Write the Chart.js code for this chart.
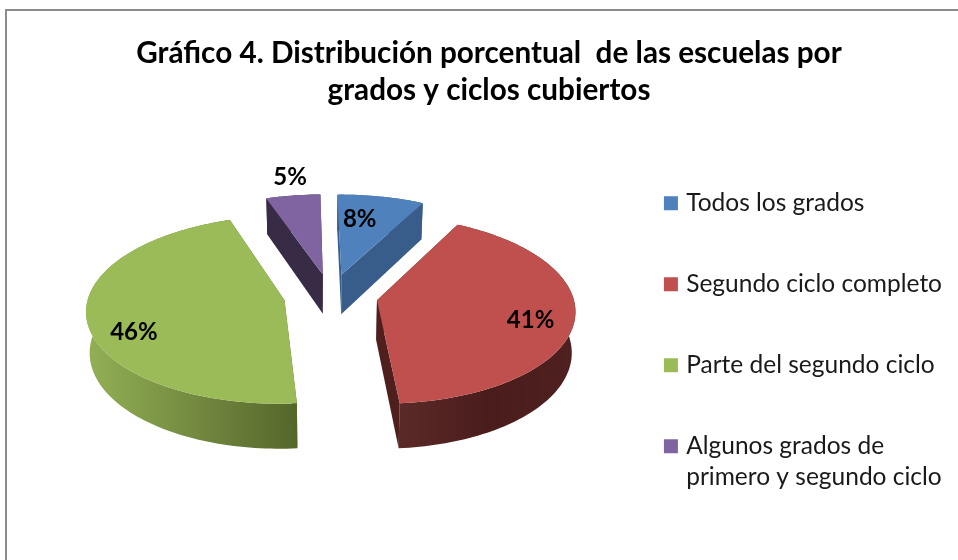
<!DOCTYPE html>
<html lang="es">
<head>
<meta charset="utf-8">
<title>Gráfico 4</title>
<script src="https://cdn.jsdelivr.net/npm/chart.js@4"></script>
<style>
  html, body { margin: 0; padding: 0; background: #fff; }
  canvas { display: block; }
</style>
</head>
<body>
<canvas id="pieChart" width="958" height="560"></canvas>
<script>
// Datos
const categories = [
  'Todos los grados',
  'Segundo ciclo completo',
  'Parte del segundo ciclo',
  ['Algunos grados de', 'primero y segundo ciclo']
];
const values = [8, 41, 46, 5];
const titleLines = [
  'Gráfico 4. Distribución porcentual  de las escuelas por',
  'grados y ciclos cubiertos'
];

// Colores
const topColors = ['#4F81BD', '#C0504D', '#9BBB59', '#8064A2'];
const edgeColors = ['#385D8A', '#4F1F1E', '#55662B', '#372B45'];
const rimStops = [
  ['#385D8A', '#385D8A'],
  ['#5A2A28', '#4A1C1B', '#4E2120'],
  ['#93B055', '#55662B'],
  ['#372B45', '#372B45']
];

// Ajuste de las etiquetas respecto al punto medio de cada sector
const labelShift = [[-12, 4], [6, 6], [-3, 17], [-10, -37]];

// Perspectiva del pastel
const TILT = 0.47;
const PERSPECTIVE = 0.10;
const DEPTH = 40.3;
const BOTTOM_SCALE = 0.985;
const SHIFT_X = 12;
const SHIFT_Y = -38;

function makeProjector(cx, cy, radius) {
  return (u, v, low) => {
    const s = 1 / (1 - PERSPECTIVE * v / radius);
    const k = low ? BOTTOM_SCALE : 1;
    return {
      x: cx + u * s * k,
      y: cy + v * TILT * s + (low ? DEPTH * s : 0)
    };
  };
}

function arcPoints(el, project, low) {
  const { startAngle, endAngle, outerRadius } = el;
  const off = el.options.offset;
  const mid = (startAngle + endAngle) / 2;
  const ou = Math.cos(mid) * off;
  const ov = Math.sin(mid) * off;
  const steps = Math.max(6, Math.ceil((endAngle - startAngle) * 40));
  const pts = [];
  for (let i = 0; i <= steps; i++) {
    const a = startAngle + (endAngle - startAngle) * i / steps;
    pts.push(project(ou + Math.cos(a) * outerRadius, ov + Math.sin(a) * outerRadius, low));
  }
  return { pts, apex: project(ou, ov, low) };
}

function fillPoly(ctx, pts, fill) {
  ctx.beginPath();
  pts.forEach((p, i) => (i ? ctx.lineTo(p.x, p.y) : ctx.moveTo(p.x, p.y)));
  ctx.closePath();
  ctx.fillStyle = fill;
  ctx.fill();
}

const pie3d = {
  id: 'pie3d',
  beforeDraw(chart) {
    // Marco gris, solo arriba y a la izquierda
    const { ctx } = chart;
    ctx.save();
    ctx.strokeStyle = '#8C8C8C';
    ctx.lineWidth = 2;
    ctx.beginPath();
    ctx.moveTo(6, 560);
    ctx.lineTo(6, 10);
    ctx.lineTo(958, 10);
    ctx.stroke();
    ctx.restore();
  },
  beforeDatasetsDraw(chart) {
    const { ctx } = chart;
    const arcs = chart.getDatasetMeta(0).data;
    ctx.save();
    arcs.forEach((el, i) => {
      const project = makeProjector(el.x + SHIFT_X, el.y + SHIFT_Y, el.outerRadius);
      const high = arcPoints(el, project, false);
      const low = arcPoints(el, project, true);

      // Pared exterior con degradado
      const xs = high.pts.map(p => p.x);
      const grad = ctx.createLinearGradient(Math.min(...xs), 0, Math.max(...xs), 0);
      rimStops[i].forEach((c, n) => grad.addColorStop(n / (rimStops[i].length - 1), c));
      fillPoly(ctx, high.pts.concat(low.pts.slice().reverse()), grad);

      // Paredes radiales
      const last = high.pts.length - 1;
      fillPoly(ctx, [high.apex, high.pts[0], low.pts[0], low.apex], edgeColors[i]);
      fillPoly(ctx, [high.apex, high.pts[last], low.pts[last], low.apex], edgeColors[i]);

      // Cara superior
      fillPoly(ctx, [high.apex].concat(high.pts), el.options.backgroundColor);
    });

    // Etiquetas
    ctx.font = 'bold 24px Lato';
    ctx.fillStyle = '#000';
    ctx.textAlign = 'center';
    ctx.textBaseline = 'middle';
    arcs.forEach((el, i) => {
      const project = makeProjector(el.x + SHIFT_X, el.y + SHIFT_Y, el.outerRadius);
      const off = el.options.offset;
      const mid = (el.startAngle + el.endAngle) / 2;
      const r = el.outerRadius * 0.75 + off;
      const p = project(Math.cos(mid) * r, Math.sin(mid) * r, false);
      ctx.fillText(values[i] + '%', p.x + labelShift[i][0], p.y + labelShift[i][1]);
    });
    ctx.restore();
    return false;
  }
};

new Chart(document.getElementById('pieChart').getContext('2d'), {
  type: 'pie',
  data: {
    labels: categories,
    datasets: [{
      data: values,
      backgroundColor: topColors,
      borderWidth: 0,
      offset: 47,
      radius: 196
    }]
  },
  options: {
    responsive: false,
    animation: false,
    events: [],
    rotation: -1,
    layout: { padding: { left: 26, right: 6, top: 0, bottom: 7.5 } },
    plugins: {
      tooltip: { enabled: false },
      title: {
        display: true,
        text: titleLines,
        color: '#000',
        font: { family: 'Lato', size: 29.7, weight: 'bold', lineHeight: 37 / 29.7 },
        padding: { top: 35, bottom: 6 }
      },
      legend: {
        position: 'right',
        align: 'end',
        labels: {
          color: '#1a1a1a',
          font: { family: 'Lato', size: 24.5, lineHeight: 31 / 24.5 },
          usePointStyle: true,
          pointStyle: 'rect',
          boxWidth: 6,
          boxHeight: 14,
          padding: 56.5
        }
      }
    }
  },
  plugins: [pie3d]
});
</script>
</body>
</html>
